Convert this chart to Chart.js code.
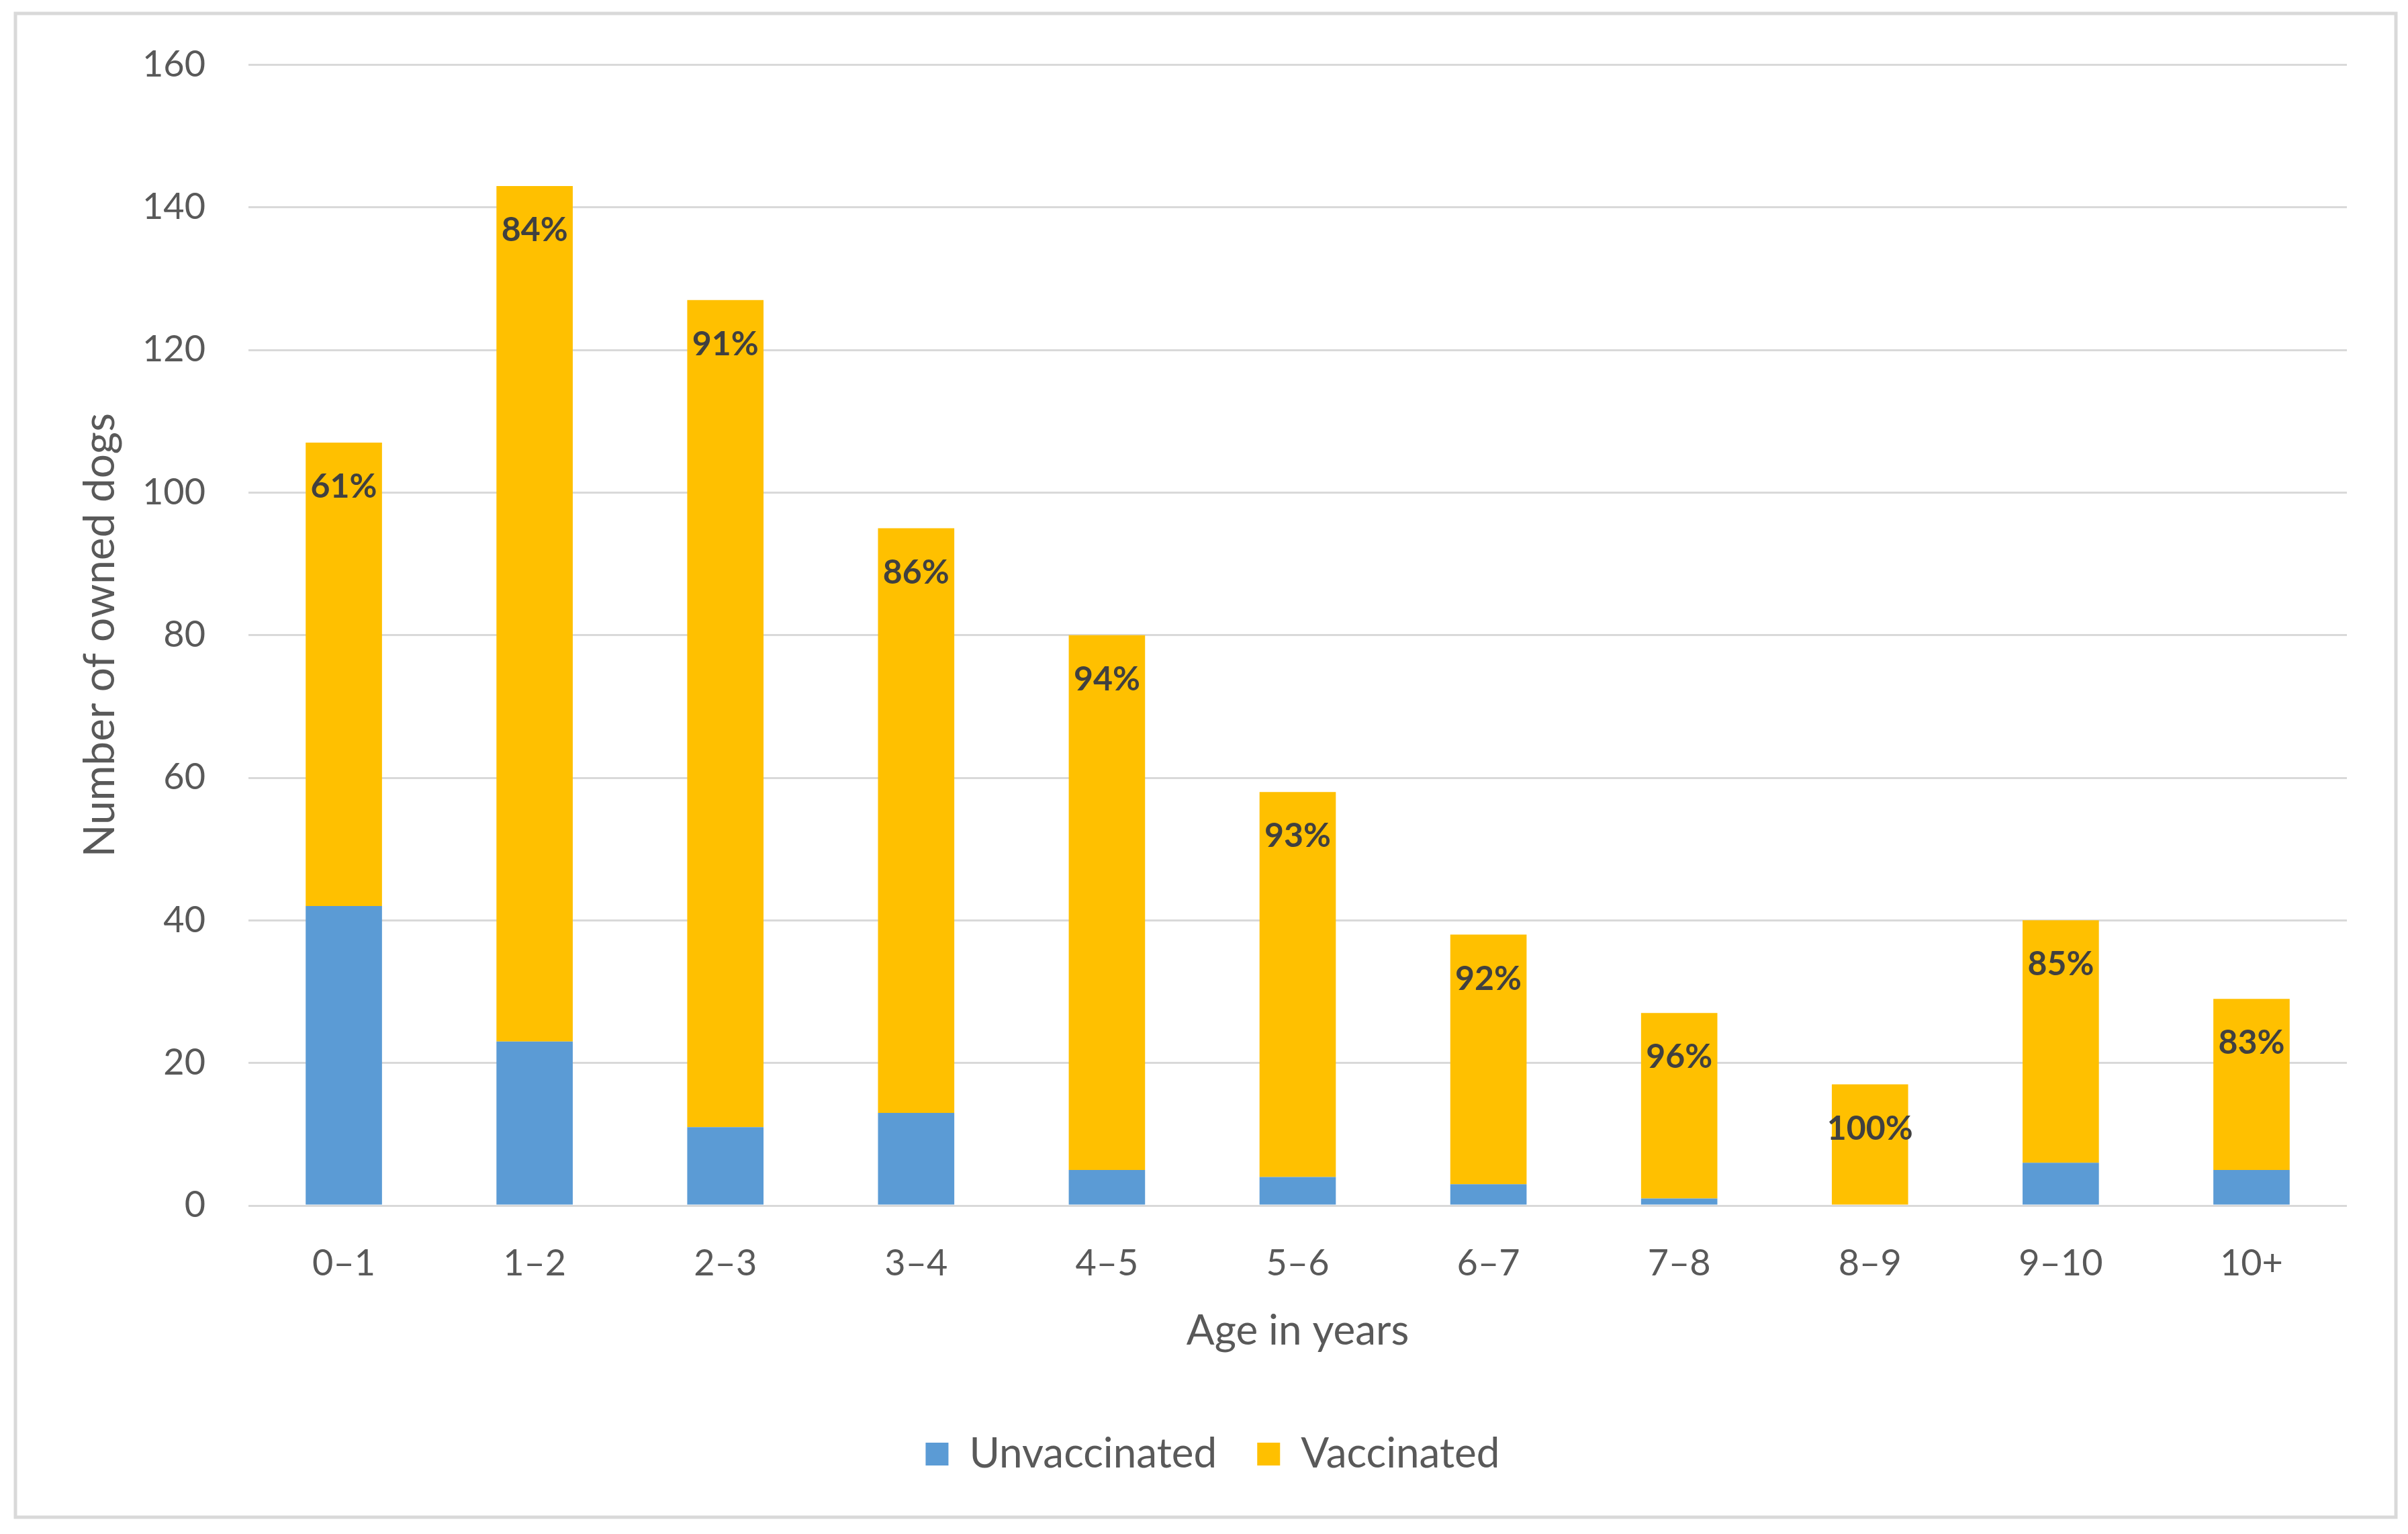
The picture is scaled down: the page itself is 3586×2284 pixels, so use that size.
<!DOCTYPE html>
<html>
<head>
<meta charset="utf-8">
<script src="https://cdn.jsdelivr.net/npm/chart.js@4.4.1/dist/chart.umd.min.js"></script>
<style>
  html, body { margin: 0; padding: 0; background: #fff; }
</style>
</head>
<body>
<canvas id="dogs-chart" width="3586" height="2284"></canvas>
<script>
// values
const ageGroups = ["0–1", "1–2", "2–3", "3–4", "4–5", "5–6", "6–7", "7–8", "8–9", "9–10", "10+"];
const unvaccinated = [42, 23, 11, 13, 5, 4, 3, 1, 0, 6, 5];
const vaccinated = [65, 120, 116, 82, 75, 54, 35, 26, 17, 34, 24];
const vaccinatedShare = ["61%", "84%", "91%", "86%", "94%", "93%", "92%", "96%", "100%", "85%", "83%"];
const yMin = 0, yMax = 160, yStep = 20;

const BLUE = "#5b9bd5";
const GOLD = "#ffc000";
const GRID = "#d9d9d9";
const TEXT = "#595959";

Chart.defaults.font.family = "Lato, 'Open Sans', sans-serif";

// light grey frame round the whole chart
const frame = {
  id: "frame",
  beforeDraw(chart) {
    const ctx = chart.ctx;
    ctx.save();
    ctx.fillStyle = "#fff";
    ctx.fillRect(0, 0, chart.width, chart.height);
    ctx.strokeStyle = GRID;
    ctx.lineWidth = 5;
    ctx.strokeRect(23, 20, chart.width - 41, chart.height - 45);
    ctx.restore();
  }
};

// percentage labels near the top of each vaccinated segment
const shareLabels = {
  id: "shareLabels",
  afterDatasetsDraw(chart) {
    const meta = chart.getDatasetMeta(1);
    const ctx = chart.ctx;
    ctx.save();
    ctx.font = "bold 50px Lato";
    ctx.fillStyle = "#404040";
    ctx.textAlign = "center";
    ctx.textBaseline = "middle";
    meta.data.forEach((bar, i) => {
      ctx.fillText(vaccinatedShare[i], bar.x, bar.y + 66);
    });
    ctx.restore();
  }
};

const canvas = document.getElementById("dogs-chart");
new Chart(canvas, {
  type: "bar",
  data: {
    labels: ageGroups,
    datasets: [
      {
        label: "Unvaccinated",
        data: unvaccinated,
        backgroundColor: BLUE,
        borderWidth: 0,
        categoryPercentage: 1,
        barPercentage: 0.4
      },
      {
        label: "Vaccinated",
        data: vaccinated,
        backgroundColor: GOLD,
        borderWidth: 0,
        categoryPercentage: 1,
        barPercentage: 0.4
      }
    ]
  },
  options: {
    responsive: false,
    animation: false,
    devicePixelRatio: 1,
    layout: {
      padding: { left: 117, right: 91, top: 81, bottom: 78 }
    },
    scales: {
      x: {
        stacked: true,
        grid: { display: false },
        border: { display: false },
        ticks: {
          color: TEXT,
          font: { size: 54 },
          padding: 46
        },
        title: {
          display: true,
          text: "Age in years",
          color: TEXT,
          font: { size: 62 },
          padding: { top: 0, bottom: 55 }
        },
        afterFit(scale) { scale.height = 279; }
      },
      y: {
        stacked: true,
        min: yMin,
        max: yMax,
        grid: {
          color: GRID,
          lineWidth: 3,
          drawTicks: false
        },
        border: { display: false },
        ticks: {
          stepSize: yStep,
          color: TEXT,
          font: { size: 54 },
          padding: 64
        },
        title: {
          display: true,
          text: "Number of owned dogs",
          color: TEXT,
          font: { size: 64, lineHeight: 1 },
          padding: { top: 0, bottom: 0 }
        },
        afterFit(scale) { scale.width = 253; }
      }
    },
    plugins: {
      legend: {
        position: "bottom",
        labels: {
          color: TEXT,
          font: { size: 62 },
          boxWidth: 34,
          boxHeight: 34,
          padding: 60
        }
      },
      tooltip: { enabled: false }
    }
  },
  plugins: [frame, shareLabels]
});
</script>
</body>
</html>
